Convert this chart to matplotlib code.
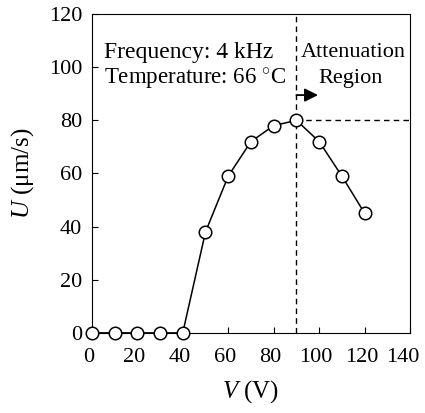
import numpy as np
import matplotlib.pyplot as plt
import matplotlib.transforms as mtransforms

plt.rcParams['font.family'] = ['Liberation Serif', 'DejaVu Serif']
plt.rcParams['mathtext.fontset'] = 'custom'
plt.rcParams['mathtext.rm'] = 'Liberation Serif'
plt.rcParams['mathtext.it'] = 'Liberation Serif:italic'

# data
V = [0, 10, 20, 30, 40, 50, 60, 70, 80, 90, 100, 110, 120]
U = [0, 0, 0, 0, 0, 38, 59, 72, 78, 80, 72, 59, 45]
V_peak = 90
U_peak = 80

fig = plt.figure(figsize=(4.25, 4.13), dpi=100)
ax = fig.add_axes([0.216, 0.194, 0.749, 0.772])

ax.plot(V, U, '-', color='black', lw=1.1, marker='o', ms=9,
        mfc='white', mec='black', mew=1.1, zorder=3, clip_on=False)

ax.plot([V_peak, V_peak], [0, 120], '--', color='black', lw=1.0, dashes=(4, 3))
ax.plot([V_peak, 140], [U_peak, U_peak], '--', color='black', lw=1.0, dashes=(4, 3))
ax.annotate('', xy=(99.5, 89.5), xytext=(V_peak, 89.5),
            arrowprops=dict(arrowstyle='-|>', color='black', lw=1.3,
                            mutation_scale=20, shrinkA=0, shrinkB=0))

ax.text(5.5, 105.7, 'Frequency: 4 kHz', fontsize=17, va='center')
ax.text(5.5, 95.3, 'Temperature: 66 $^{\\circ}$C', fontsize=16.5, va='center')
ax.text(115, 105.7, 'Attenuation', fontsize=16, va='center', ha='center')
ax.text(113.7, 95.8, 'Region', fontsize=16, va='center', ha='center')

ax.set_xlim(0, 140)
ax.set_ylim(0, 120)
ax.set_xticks(np.arange(0, 141, 20))
ax.set_yticks(np.arange(0, 121, 20))
ax.tick_params(direction='in', labelsize=16, length=4)
ax.tick_params(axis='x', pad=11)
ax.tick_params(axis='y', pad=7)
ax.set_xlabel('$\\it{V}$ (V)', fontsize=18, labelpad=8)
ax.set_ylabel('$\\it{U}$ (μm/s)', fontsize=18, labelpad=9)

# nudge x tick labels a little to the left, the last one more so it stays inside
fig.canvas.draw()
for i, lbl in enumerate(ax.get_xticklabels()):
    dx = -7 if i == len(ax.get_xticklabels()) - 1 else -3
    off = mtransforms.ScaledTranslation(dx / 100, 0, fig.dpi_scale_trans)
    lbl.set_transform(lbl.get_transform() + off)

plt.savefig('out.png', dpi=100)
